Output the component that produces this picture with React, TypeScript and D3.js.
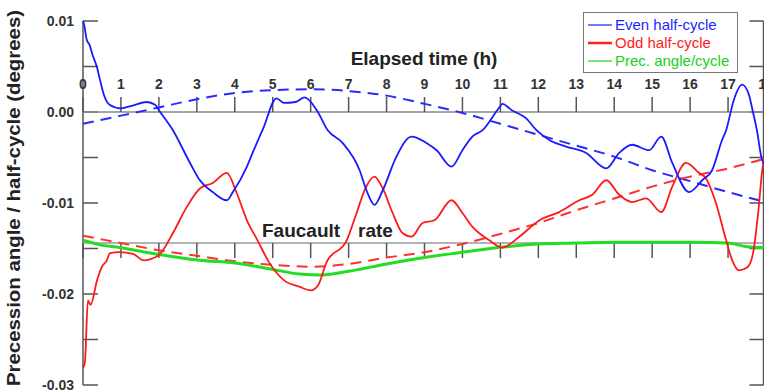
import React from 'react';
import * as d3 from 'd3';

// elapsed time (h), precession angle per half-cycle (degrees)
const evenHalf: [number, number][] = [
  [0, 0.0100], [0.03, 0.0096], [0.1, 0.0079], [0.17, 0.0074], [0.25, 0.0063], [0.37, 0.0049],
  [0.45, 0.0035], [0.55, 0.0019], [0.7, 0.0008], [1.0, 0.0004], [1.3, 0.0007], [1.68, 0.0011],
  [1.9, 0.0008], [2.0, 0.0002], [2.37, -0.0020], [2.82, -0.0056], [3.08, -0.0075], [3.42, -0.0088],
  [3.79, -0.0097], [3.95, -0.0088], [4.32, -0.0060], [4.5, -0.0042], [4.75, -0.0018], [5.1, 0.0015],
  [5.3, 0.0010], [5.6, 0.0011], [5.84, 0.0016], [6.16, 0.0002], [6.45, -0.0020], [6.84, -0.0034],
  [7.29, -0.0064], [7.47, -0.0086], [7.68, -0.0102], [7.9, -0.0086], [8.26, -0.0049], [8.66, -0.0027],
  [9.05, -0.0034], [9.32, -0.0042], [9.71, -0.0060], [10.0, -0.0042], [10.26, -0.0027], [10.53, -0.0020],
  [10.97, 0.0005], [11.05, 0.0009], [11.3, 0.0002], [11.68, -0.0007], [11.95, -0.0020], [12.3, -0.0031],
  [12.73, -0.0038], [13.26, -0.0045], [13.79, -0.0062], [14.13, -0.0045], [14.47, -0.0036], [14.92, -0.0042],
  [15.24, -0.0027], [15.53, -0.0056], [15.97, -0.0088], [16.32, -0.0075], [16.58, -0.0064], [16.84, -0.0031],
  [16.95, -0.0020], [17.15, 0.0013], [17.37, 0.0030], [17.55, 0.0019], [17.63, 0.0005], [17.76, -0.0020],
  [17.9, -0.0053], [18.0, -0.0058],
];

const oddHalf: [number, number][] = [
  [0, -0.0281], [0.05, -0.0275], [0.13, -0.0207], [0.2, -0.0212], [0.37, -0.0185], [0.5, -0.0170],
  [0.63, -0.0163], [0.71, -0.0155], [0.97, -0.0154], [1.32, -0.0156], [1.6, -0.0163], [1.76, -0.0162],
  [2.03, -0.0156], [2.37, -0.0133], [2.74, -0.0104], [3.08, -0.0084], [3.42, -0.0078], [3.79, -0.0067],
  [4.05, -0.0089], [4.32, -0.0119], [4.6, -0.0141], [4.9, -0.0165], [5.3, -0.0185], [5.7, -0.0192],
  [6.0, -0.0196], [6.2, -0.0190], [6.42, -0.0165], [6.95, -0.0141], [7.21, -0.0111], [7.42, -0.0086],
  [7.68, -0.0071], [7.9, -0.0084], [8.16, -0.0111], [8.42, -0.0133], [8.66, -0.0137], [8.95, -0.0122],
  [9.26, -0.0119], [9.71, -0.0097], [10.0, -0.0111], [10.26, -0.0126], [10.71, -0.0141], [11.05, -0.0149],
  [11.5, -0.0137], [12.03, -0.0119], [12.55, -0.0110], [13.08, -0.0097], [13.42, -0.0091], [13.79, -0.0075],
  [14.13, -0.0091], [14.47, -0.0099], [14.84, -0.0095], [15.24, -0.0110], [15.53, -0.0082], [15.89, -0.0056],
  [16.24, -0.0067], [16.42, -0.0073], [16.68, -0.0100], [16.95, -0.0141], [17.11, -0.0163], [17.29, -0.0174],
  [17.5, -0.0171], [17.65, -0.0157], [17.8, -0.0108], [17.9, -0.0064], [18.0, -0.0042],
];

const precCycle: [number, number][] = [
  [0, -0.0141], [0.45, -0.0146], [0.97, -0.0149], [1.76, -0.0155], [2.37, -0.0159], [3.08, -0.0163],
  [4, -0.0166], [5, -0.0173], [5.7, -0.0178], [6.3, -0.0179], [7, -0.0175], [8, -0.0167], [9, -0.0160],
  [10, -0.0154], [11.16, -0.0148], [12, -0.0145], [13, -0.0144], [14, -0.0143], [15, -0.0143],
  [16, -0.0143], [17, -0.0144], [17.5, -0.0148], [18, -0.0149],
];

const evenFit: [number, number][] = [
  [0, -0.0013], [1, -0.0004], [2, 0.0005], [3, 0.0014], [4, 0.0021], [5, 0.0024], [6, 0.0025],
  [7, 0.0023], [8, 0.0018], [9, 0.0009], [10, -0.0001], [11, -0.0013], [12, -0.0025], [13, -0.0037],
  [14, -0.0049], [15, -0.0064], [16, -0.0076], [17, -0.0088], [18, -0.0099],
];

const oddFit: [number, number][] = [
  [0, -0.0136], [1, -0.0144], [2, -0.0152], [3, -0.0158], [4, -0.0164], [5, -0.0168], [6, -0.0170],
  [7, -0.0167], [8, -0.0160], [9, -0.0154], [10, -0.0145], [11, -0.0134], [12, -0.0122], [13, -0.0108],
  [14, -0.0095], [15, -0.0082], [16, -0.0071], [17, -0.0062], [18, -0.0051],
];

const faucaultRate = -0.0144;
const hourTicks = d3.range(0, 19);
const yTickLabels = [0.01, 0, -0.01, -0.02, -0.03];
const yTicks = d3.range(-0.03, 0.0101, 0.005);
const legendItems = [
  { label: 'Even half-cycle', color: '#1f1fff', width: 1.2 },
  { label: 'Odd half-cycle', color: '#ff2020', width: 2.5 },
  { label: 'Prec. angle/cycle', color: '#20d020', width: 1.2 },
];

const W = 764;
const H = 390;
const font = 'Liberation Sans, Arial, sans-serif';

export default function App() {
  const x = d3.scaleLinear().domain([0, 18]).range([83, 766]);
  const y = d3.scaleLinear().domain([-0.03, 0.01]).range([385, 21]);
  const line = d3.line<[number, number]>()
    .x(d => x(d[0]))
    .y(d => y(d[1]))
    .curve(d3.curveMonotoneX);

  const axisColor = '#555';
  const rightX = 763.5;

  return (
    <div style={{ position: 'fixed', left: 0, top: 0 }}>
      <svg width={W} height={H} style={{ display: 'block', background: '#fff' }} fontFamily={font}>
        {/* y axis title */}
        <text
          transform={`translate(20,${(10 + 386) / 2}) rotate(-90)`}
          textAnchor="middle"
          fontSize={19}
          fontWeight="bold"
          fill="#222"
          textLength={376}
          lengthAdjust="spacingAndGlyphs"
        >
          Precession angle / half-cycle (degrees)
        </text>

        {/* left axis */}
        <line x1={x(0)} x2={x(0)} y1={y(0.01)} y2={y(-0.03)} stroke={axisColor} strokeWidth={1.5} />
        {yTicks.map((v, i) => (
          <line key={'lt' + i} x1={x(0)} x2={x(0) + 15} y1={y(v)} y2={y(v)} stroke={axisColor} strokeWidth={1.5} />
        ))}
        {yTickLabels.map(v => (
          <text key={'ll' + v} x={74} y={y(v)} dy="0.36em" textAnchor="end" fontSize={14} fontWeight="bold" fill="#333">
            {v.toFixed(2)}
          </text>
        ))}

        {/* right axis */}
        <line x1={rightX} x2={rightX} y1={y(0.01)} y2={y(-0.03)} stroke={axisColor} strokeWidth={1.5} />
        {yTicks.map((v, i) => (
          <line key={'rt' + i} x1={rightX - 14} x2={rightX} y1={y(v)} y2={y(v)} stroke={axisColor} strokeWidth={1.5} />
        ))}

        {/* time axis at zero */}
        <line x1={x(0)} x2={rightX} y1={y(0)} y2={y(0)} stroke="#888" strokeWidth={1.5} />
        {hourTicks.map(h => (
          <g key={'xt' + h}>
            <line x1={x(h)} x2={x(h)} y1={y(0)} y2={y(0) - 15} stroke={axisColor} strokeWidth={1.5} />
            <text x={x(h)} y={89} textAnchor="middle" fontSize={14} fontWeight="bold" fill="#333">{h}</text>
          </g>
        ))}
        <text x={424} y={65} textAnchor="middle" fontSize={19} fontWeight="bold" fill="#222">Elapsed time (h)</text>

        {/* Faucault rate reference */}
        <line x1={x(0)} x2={rightX} y1={y(faucaultRate)} y2={y(faucaultRate)} stroke="#999" strokeWidth={1.5} />
        {hourTicks.map(h => (
          <line key={'ft' + h} x1={x(h)} x2={x(h)} y1={y(faucaultRate)} y2={y(faucaultRate) + 15} stroke={axisColor} strokeWidth={1.5} />
        ))}
        <text x={262} y={237} fontSize={19} fontWeight="bold" fill="#222">Faucault</text>
        <text x={358} y={237} fontSize={19} fontWeight="bold" fill="#222">rate</text>

        {/* fitted trends */}
        <path d={line(evenFit) ?? ''} fill="none" stroke="#2a2aff" strokeWidth={2} strokeDasharray="11,7" />
        <path d={line(oddFit) ?? ''} fill="none" stroke="#ff3030" strokeWidth={2} strokeDasharray="11,7" />

        {/* measured series */}
        <path d={line(precCycle) ?? ''} fill="none" stroke="#22dd22" strokeWidth={3} />
        <path d={line(oddHalf) ?? ''} fill="none" stroke="#ff1a1a" strokeWidth={1.8} />
        <path d={line(evenHalf) ?? ''} fill="none" stroke="#1a1aff" strokeWidth={1.8} />

        {/* legend */}
        <rect x={583.5} y={12.5} width={154} height={60} fill="#fff" stroke="#777" strokeWidth={1} />
        {legendItems.map((item, i) => (
          <g key={item.label} transform={`translate(0,${25 + i * 18})`}>
            <line x1={588} x2={612} y1={0} y2={0} stroke={item.color} strokeWidth={item.width} />
            <text x={615} y={0} dy="0.35em" fontSize={15} fill={item.color}>{item.label}</text>
          </g>
        ))}
      </svg>
    </div>
  );
}
